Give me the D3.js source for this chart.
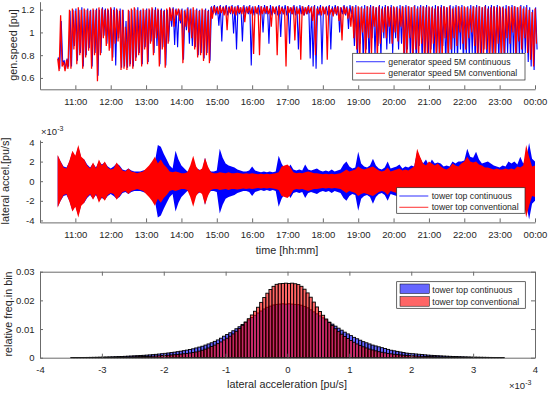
<!DOCTYPE html>
<html>
<head>
<meta charset="utf-8">
<script src="https://cdn.jsdelivr.net/npm/d3@7"></script>
<style>
  body { margin: 0; background: #fff; }
  svg { display: block; font-family: "Liberation Sans", Arial, sans-serif; }
  .tick text { fill: #262626; font-size: 9.5px; }
  .domain, .tick line { stroke: #6b6b6b; }
  .lbl { fill: #262626; font-size: 10.8px; }
  .leg { fill: #262626; font-size: 8.7px; }
</style>
</head>
<body>
<svg id="chart" width="550" height="393"></svg>
<script>
// time series: one sample every 5 minutes, starting 10:30
const startTime = new Date(2000, 0, 1, 10, 30);
const stepMinutes = 5;

// generator speed [pu], upper / lower swing per 5 min slot
const speedContHi = [
  0.78, 1.1, 0.75, 0.77, 1.19, 1.2, 1.21, 1.2, 1.22, 1.2,
  1.21, 1.2, 1.2, 1.21, 1.2, 1.22, 1.21, 1.2, 1.21, 1.22,
  1.2, 1.21, 1.2, 1.1, 1.19, 1.2, 1.21, 1.22, 1.2, 1.2,
  1.21, 1.2, 1.21, 1.22, 1.2, 1.21, 1.2, 1.2, 1.21, 1.22,
  1.21, 1.2, 1.21, 1.2, 1.22, 1.21, 1.2, 1.21, 1.2, 1.2,
  1.21, 1.2, 1.23, 1.24, 1.23, 1.24, 1.23, 1.24, 1.23, 1.24,
  1.23, 1.24, 1.22, 1.24, 1.23, 1.24, 1.23, 1.22, 1.24, 1.23,
  1.24, 1.23, 1.24, 1.22, 1.23, 1.24, 1.23, 1.24, 1.23, 1.22,
  1.24, 1.23, 1.24, 1.23, 1.22, 1.24, 1.23, 1.24, 1.23, 1.24,
  1.22, 1.23, 1.24, 1.23, 1.24, 1.23, 1.22, 1.24, 1.23, 1.24,
  1.23, 1.24, 1.22, 1.23, 1.24, 1.23, 1.24, 1.23, 1.22, 1.24,
  1.23, 1.24, 1.23, 1.24, 1.22, 1.23, 1.24, 1.23, 1.24, 1.23,
  1.22, 1.24, 1.23, 1.24, 1.23, 1.24, 1.22, 1.23, 1.24, 1.23,
  1.24, 1.23, 1.22, 1.24, 1.23, 1.24, 1.23, 1.24, 1.22, 1.23,
  1.24, 1.23, 1.24, 1.23, 1.22, 1.24, 1.23, 1.24, 1.23, 1.24,
  1.22, 1.23, 1.24, 1.23, 1.24, 1.23, 1.22, 1.24, 1.23, 1.24,
  1.22, 1.2, 1.22
];
const speedContLo = [
  0.68, 0.74, 0.68, 0.7, 0.7, 0.88, 0.75, 0.82, 0.7, 0.8,
  0.86, 0.7, 0.82, 0.62, 0.82, 0.97, 0.9, 0.86, 0.78, 0.71,
  0.95, 0.69, 0.7, 0.69, 0.72, 0.7, 0.78, 0.82, 0.72, 0.87,
  0.74, 0.92, 0.82, 0.88, 0.72, 0.87, 0.71, 0.92, 1.05, 0.89,
  0.87, 1.08, 0.76, 1.02, 0.9, 0.88, 0.87, 0.8, 0.82, 0.77,
  0.82, 0.75, 1.16, 1.15, 1.06, 0.92, 1.16, 1.15, 1.16, 0.99,
  0.85, 1.16, 0.92, 1.15, 1.16, 0.71, 1.15, 1.16, 1.15, 1.0,
  1.16, 0.9, 1.15, 1.16, 1.15, 0.96, 1.16, 1.15, 0.9, 1.16,
  1.15, 0.85, 1.16, 1.15, 1.16, 0.77, 0.7, 0.68, 1.15, 0.72,
  1.16, 1.15, 0.85, 1.16, 1.15, 1.0, 1.16, 1.15, 1.03, 1.16,
  0.88, 0.78, 0.9, 0.75, 0.85, 0.72, 0.95, 0.8, 0.88, 0.78,
  0.95, 0.85, 0.9, 0.82, 0.95, 0.85, 0.9, 0.75, 0.85, 0.78,
  0.82, 0.72, 0.88, 0.76, 0.8, 0.72, 0.85, 0.74, 0.82, 0.75,
  0.88, 0.72, 0.8, 0.76, 0.82, 0.75, 0.85, 0.72, 0.8, 0.76,
  0.82, 0.74, 0.8, 0.72, 0.85, 0.74, 0.8, 0.72, 0.82, 0.75,
  0.8, 0.73, 0.82, 0.76, 0.8, 0.74, 0.78, 0.76, 0.82, 0.74,
  0.7, 0.67, 0.85
];
const speedConvHi = [
  0.77, 1.15, 0.74, 0.76, 1.2, 1.21, 1.19, 1.22, 1.2, 1.21,
  1.2, 1.19, 1.21, 1.2, 1.22, 1.21, 1.2, 1.21, 1.22, 1.2,
  1.21, 1.19, 1.2, 1.05, 1.2, 1.21, 1.22, 1.2, 1.19, 1.21,
  1.2, 1.21, 1.22, 1.2, 1.21, 1.2, 1.19, 1.21, 1.22, 1.21,
  1.2, 1.21, 1.2, 1.19, 1.21, 1.2, 1.22, 1.2, 1.19, 1.21,
  1.2, 1.19, 1.22, 1.23, 1.22, 1.23, 1.22, 1.23, 1.22, 1.23,
  1.22, 1.23, 1.22, 1.23, 1.22, 1.23, 1.22, 1.23, 1.22, 1.23,
  1.22, 1.23, 1.21, 1.23, 1.22, 1.23, 1.22, 1.21, 1.23, 1.22,
  1.23, 1.22, 1.21, 1.23, 1.22, 1.23, 1.22, 1.23, 1.21, 1.22,
  1.23, 1.22, 1.23, 1.21, 1.22, 1.23, 1.22, 1.23, 1.22, 1.21,
  1.23, 1.22, 1.23, 1.22, 1.21, 1.23, 1.22, 1.23, 1.22, 1.23,
  1.21, 1.22, 1.23, 1.22, 1.23, 1.22, 1.21, 1.23, 1.22, 1.23,
  1.22, 1.23, 1.21, 1.22, 1.23, 1.22, 1.23, 1.22, 1.21, 1.23,
  1.22, 1.23, 1.22, 1.23, 1.21, 1.22, 1.23, 1.22, 1.23, 1.22,
  1.21, 1.23, 1.22, 1.23, 1.22, 1.23, 1.21, 1.22, 1.23, 1.22,
  1.23, 1.22, 1.21, 1.23, 1.22, 1.23, 1.22, 1.23, 1.21, 1.22,
  1.2, 1.18, 1.21
];
const speedConvLo = [
  0.66, 0.7, 0.66, 0.68, 0.68, 0.85, 0.72, 0.8, 0.68, 0.78,
  0.84, 0.68, 0.8, 0.57, 0.8, 0.95, 0.88, 0.84, 0.75, 0.9,
  0.92, 0.67, 0.68, 0.67, 0.7, 0.68, 0.75, 0.8, 0.7, 0.85,
  0.72, 0.9, 0.8, 0.95, 0.7, 0.85, 0.69, 0.9, 1.1, 1.05,
  1.15, 1.1, 0.73, 1.05, 1.0, 0.95, 0.85, 0.78, 0.8, 0.75,
  0.8, 0.73, 1.12, 1.17, 1.16, 1.17, 1.15, 1.02, 1.17, 1.16,
  1.15, 1.17, 1.16, 1.09, 1.17, 1.16, 0.81, 1.17, 0.8, 1.16,
  1.17, 1.16, 1.05, 1.17, 0.8, 1.16, 1.17, 0.7, 1.17, 1.16,
  0.93, 1.16, 0.76, 1.15, 1.16, 1.17, 1.1, 0.8, 1.16, 1.15,
  1.16, 0.76, 1.17, 1.14, 1.16, 1.1, 0.93, 1.16, 1.12, 1.05,
  0.95, 0.85, 0.72, 1.0, 0.78, 0.95, 0.8, 1.05, 0.78, 0.9,
  1.0, 0.95, 1.05, 0.9, 1.0, 0.92, 1.05, 0.8, 0.78, 0.95,
  0.75, 0.85, 0.78, 0.9, 0.76, 0.8, 0.75, 0.9, 0.78, 0.82,
  0.76, 0.95, 0.78, 0.85, 0.95, 0.88, 1.0, 0.9, 0.85, 0.95,
  1.0, 0.88, 0.78, 0.8, 0.76, 0.85, 0.78, 0.8, 0.75, 0.9,
  0.78, 0.82, 0.95, 0.9, 1.0, 0.8, 0.92, 0.85, 0.95, 0.82,
  0.76, 0.7, 0.9
];

// tower top lateral acceleration envelope [1e-3 pu/s] per 5 min slot
const accelContAmp = [
  2.6, 2.0, 1.5, 1.4, 2.0, 3.0, 2.5, 3.5, 2.4, 2.2,
  1.7, 1.4, 1.8, 1.4, 2.0, 1.7, 1.9, 1.5, 1.3, 1.5,
  1.8, 1.6, 1.2, 1.1, 1.3, 1.1, 1.0, 1.0, 1.0, 1.1,
  1.2, 1.4, 1.7, 2.0, 3.7, 3.5, 2.8, 2.2, 1.6, 1.3,
  3.1, 2.2, 1.6, 1.3, 1.0, 1.1, 2.2, 1.3, 1.2, 1.0,
  2.4, 1.3, 1.0, 1.0, 1.1, 3.3, 2.4, 1.8, 1.6, 1.5,
  1.4, 1.2, 1.1, 1.0, 1.0, 1.1, 1.5, 1.1, 1.0, 0.9,
  1.0, 0.9, 1.0, 0.9, 1.0, 2.6, 1.8, 1.3, 1.2, 1.7,
  1.2, 1.1, 1.2, 1.1, 1.7, 1.2, 1.1, 1.2, 1.3, 1.1,
  1.0, 1.1, 1.0, 1.2, 1.0, 1.1, 1.2, 1.7, 2.0, 1.5,
  1.3, 1.4, 3.0, 1.8, 1.5, 1.4, 1.6, 2.3, 1.6, 1.3,
  1.2, 1.4, 2.0, 1.3, 1.4, 1.5, 1.7, 1.3, 1.5, 1.4,
  1.6, 1.5, 3.0, 2.4, 1.8, 2.2, 1.6, 2.2, 1.8, 1.9,
  1.8, 1.5, 1.6, 1.5, 2.0, 1.8, 2.0, 2.0, 2.1, 3.3,
  2.5, 2.4, 3.0, 2.2, 1.8, 1.9, 2.0, 1.8, 1.6, 1.5,
  1.4, 1.6, 1.5, 2.0, 1.8, 2.0, 1.7, 2.5, 1.8, 2.2,
  3.9, 2.3, 2.0
];
const accelConvAmp = [
  2.7, 2.0, 1.4, 1.3, 2.1, 3.1, 2.6, 3.7, 2.5, 2.2,
  1.6, 1.3, 1.9, 1.3, 2.2, 1.6, 2.0, 1.4, 1.2, 1.3,
  1.9, 1.5, 1.1, 1.0, 1.3, 1.0, 0.9, 0.8, 0.9, 1.0,
  1.3, 1.6, 2.0, 2.5, 1.8, 2.2, 1.7, 1.4, 1.0, 0.9,
  1.0, 0.9, 0.8, 0.8, 0.9, 1.6, 2.6, 1.5, 1.1, 1.3,
  2.4, 1.5, 0.9, 0.8, 0.8, 0.9, 0.85, 0.8, 0.9, 0.8,
  0.8, 0.85, 0.8, 0.75, 0.8, 0.75, 0.8, 0.75, 0.7, 0.75,
  0.7, 0.75, 0.7, 0.75, 0.8, 0.9, 1.5, 1.6, 1.7, 1.4,
  0.9, 0.8, 0.85, 0.8, 0.9, 1.0, 0.9, 0.8, 0.8, 0.75,
  0.7, 0.75, 0.7, 0.75, 0.7, 0.75, 0.8, 1.0, 1.2, 1.0,
  1.1, 1.2, 1.5, 1.3, 1.2, 1.3, 1.4, 1.5, 1.3, 1.1,
  1.0, 1.1, 1.4, 1.0, 1.1, 1.2, 1.3, 1.1, 1.2, 1.1,
  1.3, 1.5, 3.3, 2.5, 1.8, 1.6, 2.0, 1.8, 1.6, 1.8,
  1.5, 1.3, 1.2, 1.4, 1.8, 1.6, 1.5, 1.8, 2.0, 2.5,
  2.0, 1.9, 2.0, 1.7, 1.6, 1.4, 1.4, 1.3, 1.2, 1.3,
  1.2, 1.2, 1.3, 1.2, 1.3, 1.2, 1.5, 1.4, 1.6, 3.7,
  2.5, 1.5, 1.6
];

// histogram of lateral acceleration, bins of 0.05e-3 from -3.5e-3
const binStart = -3.5;
const binWidth = 0.05;
const freqCont = [
  0.00005, 0.00006, 0.00007, 0.00008, 0.00009, 0.0001, 0.00012, 0.00014, 0.00016, 0.00019,
  0.00022, 0.00025, 0.00028, 0.00031, 0.00035, 0.00039, 0.00043, 0.00048, 0.00054, 0.0006,
  0.00066, 0.00071, 0.00077, 0.00083, 0.0009, 0.00098, 0.00107, 0.00117, 0.00128, 0.0014,
  0.00152, 0.00165, 0.00179, 0.00194, 0.0021, 0.00227, 0.00245, 0.00265, 0.00287, 0.0031,
  0.0034, 0.0037, 0.004, 0.0044, 0.0048, 0.0052, 0.0057, 0.0062, 0.0068, 0.0075,
  0.0081, 0.0087, 0.0094, 0.0101, 0.0108, 0.0116, 0.0124, 0.0132, 0.014, 0.0148,
  0.0156, 0.0163, 0.017, 0.0176, 0.018, 0.0184, 0.0186, 0.0187, 0.0188, 0.0187,
  0.0188, 0.0187, 0.0186, 0.0185, 0.0183, 0.0179, 0.0174, 0.0167, 0.016, 0.0153,
  0.0146, 0.0139, 0.0132, 0.0124, 0.0117, 0.011, 0.0103, 0.0096, 0.0089, 0.0083,
  0.0077, 0.0071, 0.0066, 0.0061, 0.0056, 0.0052, 0.0048, 0.0044, 0.0041, 0.0038,
  0.0035, 0.0032, 0.0029, 0.0026, 0.0024, 0.0022, 0.002, 0.0018, 0.0016, 0.0015,
  0.0014, 0.0013, 0.0012, 0.0011, 0.001, 0.0009, 0.00083, 0.00076, 0.0007, 0.00064,
  0.00058, 0.00053, 0.00048, 0.00044, 0.0004, 0.00036, 0.00032, 0.00029, 0.00026, 0.00023,
  0.0002, 0.00018, 0.00016, 0.00014, 0.00012, 0.0001, 0.00009, 0.00008, 0.00007, 0.00006
];
const freqConv = [
  0.00002, 0.00002, 0.00003, 0.00003, 0.00004, 0.00005, 0.00006, 0.00007, 0.00008, 0.00009,
  0.0001, 0.00011, 0.00012, 0.00013, 0.00015, 0.00017, 0.00019, 0.00022, 0.00025, 0.00028,
  0.00031, 0.00034, 0.00037, 0.0004, 0.00044, 0.00048, 0.00053, 0.00059, 0.00066, 0.00074,
  0.0008, 0.00087, 0.00095, 0.00104, 0.00114, 0.00125, 0.00137, 0.0015, 0.00165, 0.00182,
  0.002, 0.0023, 0.0026, 0.003, 0.0034, 0.0039, 0.0044, 0.0049, 0.0055, 0.0062,
  0.0068, 0.0075, 0.0083, 0.0092, 0.0102, 0.0113, 0.0124, 0.0136, 0.0149, 0.0162,
  0.0176, 0.0193, 0.021, 0.0225, 0.0238, 0.0249, 0.0256, 0.0258, 0.0259, 0.026,
  0.0259, 0.026, 0.0258, 0.0255, 0.0249, 0.0239, 0.0226, 0.0211, 0.0194, 0.0177,
  0.0161, 0.0148, 0.0135, 0.0123, 0.0112, 0.0101, 0.0091, 0.0082, 0.0074, 0.0067,
  0.006, 0.0054, 0.0048, 0.0043, 0.0038, 0.0034, 0.003, 0.0027, 0.0024, 0.0021,
  0.0019, 0.0017, 0.0015, 0.00135, 0.0012, 0.00108, 0.00097, 0.00088, 0.0008, 0.00073,
  0.00066, 0.0006, 0.00054, 0.00049, 0.00044, 0.0004, 0.00036, 0.00032, 0.00029, 0.00026,
  0.00023, 0.00021, 0.00019, 0.00017, 0.00015, 0.00013, 0.00012, 0.00011, 0.0001, 0.00009,
  0.00008, 0.00007, 0.00006, 0.00005, 0.00004, 0.00004, 0.00003, 0.00003, 0.00002, 0.00002
];

// tick values
const speedTicks = [0.6, 0.8, 1, 1.2];
const accelTicks = [-4, -2, 0, 2, 4];
const freqTicks = [0, 0.01, 0.02, 0.03];
const histTicks = [-4, -3, -2, -1, 0, 1, 2, 3, 4];

const svg = d3.select("#chart");
svg.append("rect").attr("width", 550).attr("height", 393).attr("fill", "#fff");

const timeAt = (i, extra) => d3.timeSecond.offset(startTime, i * stepMinutes * 60 + (extra || 0));

const x = d3.scaleTime()
  .domain([new Date(2000, 0, 1, 10, 0), new Date(2000, 0, 2, 0, 0)])
  .range([40, 535]);
const hourTicks = d3.timeHour.range(new Date(2000, 0, 1, 11, 0), new Date(2000, 0, 2, 0, 1));

function timeAxis(y) {
  svg.append("g")
    .attr("transform", "translate(0," + y + ")")
    .call(d3.axisBottom(x).tickValues(hourTicks).tickFormat(d3.timeFormat("%H:%M"))
      .tickSizeInner(-4).tickSizeOuter(0).tickPadding(9));
}
function leftAxis(scale, ticks, fmt) {
  svg.append("g")
    .attr("transform", "translate(40,0)")
    .call(d3.axisLeft(scale).tickValues(ticks).tickFormat(fmt)
      .tickSizeInner(-3).tickSizeOuter(0).tickPadding(5.5));
}
function yLabel(text, xb, yc) {
  svg.append("text").attr("class", "lbl")
    .attr("transform", "translate(" + xb + "," + yc + ") rotate(-90)")
    .attr("text-anchor", "middle").text(text);
}
function legendBox(x0, y0, w, h) {
  svg.append("rect").attr("x", x0).attr("y", y0).attr("width", w).attr("height", h)
    .attr("fill", "#fff").attr("stroke", "#262626").attr("stroke-width", 0.7);
}
function exponent(xp, yp) {
  const t = svg.append("text").attr("class", "leg").attr("x", xp).attr("y", yp)
    .style("font-size", "9.5px");
  t.append("tspan").text("\u00d710");
  t.append("tspan").attr("dy", -4).style("font-size", "7px").text("-3");
}

// ---------- panel 1: generator speed ----------
const y1 = d3.scaleLinear().domain([0.5, 1.27]).range([89.3, 1.7]);

function zigzag(hi, lo, shift) {
  const pts = [];
  hi.forEach((h, i) => {
    pts.push([timeAt(i, shift), h]);
    pts.push([timeAt(i, shift + 150), lo[i]]);
  });
  return pts;
}
const speedLine = d3.line().x(d => x(d[0])).y(d => y1(d[1]));

svg.append("path").datum(zigzag(speedContHi, speedContLo, 60))
  .attr("d", speedLine).attr("fill", "none")
  .attr("stroke", "#0000ff").attr("stroke-width", 1.1);
svg.append("path").datum(zigzag(speedConvHi, speedConvLo, 0))
  .attr("d", speedLine).attr("fill", "none")
  .attr("stroke", "#ff0000").attr("stroke-width", 1.25);

timeAxis(89.3);
leftAxis(y1, speedTicks, d => String(d));
yLabel("gen.speed [pu]", 16.5, 45);

legendBox(352.7, 53.3, 172.3, 26.7);
[["generator speed 5M continuous", "#0000ff", 61.7],
 ["generator speed 5M conventional", "#ff0000", 73.3]].forEach(([t, c, yy]) => {
  svg.append("line").attr("x1", 356).attr("x2", 385).attr("y1", yy).attr("y2", yy)
    .attr("stroke", c).attr("stroke-width", 1.1).attr("stroke-opacity", 0.75);
  svg.append("text").attr("class", "leg").attr("x", 388.3).attr("y", yy + 3.1).text(t);
});

// ---------- panel 2: lateral acceleration ----------
const y2 = d3.scaleLinear().domain([-4.2, 4.2]).range([222.4, 140]);
const envelope = d3.area()
  .x((d, i) => x(timeAt(i)))
  .y0(d => y2(-d))
  .y1(d => y2(d));

svg.append("path").datum(accelContAmp).attr("d", envelope).attr("fill", "#0000ff");
svg.append("path").datum(accelConvAmp).attr("d", envelope).attr("fill", "#ff0000");

timeAxis(222.4);
leftAxis(y2, accelTicks, d => String(d));
yLabel("lateral accel.[pu/s]", 8.5, 181);
exponent(41, 135);
svg.append("text").attr("class", "lbl").attr("x", 287).attr("y", 254)
  .attr("text-anchor", "middle").text("time [hh:mm]");

legendBox(396.7, 187.7, 128.3, 25.6);
[["tower top continuous", "#0000ff", 196],
 ["tower top conventional", "#ff0000", 207.3]].forEach(([t, c, yy]) => {
  svg.append("line").attr("x1", 399.3).attr("x2", 428.3).attr("y1", yy).attr("y2", yy)
    .attr("stroke", c).attr("stroke-width", 1.1).attr("stroke-opacity", 0.75);
  svg.append("text").attr("class", "leg").attr("x", 431.7).attr("y", yy + 3.1).text(t);
});

// ---------- panel 3: histogram ----------
const x3 = d3.scaleLinear().domain([-4, 4]).range([40, 535]);
const y3 = d3.scaleLinear().domain([0, 0.03]).range([357.7, 271.7]);

function bars(freq, color) {
  svg.append("g").selectAll("rect").data(freq).join("rect")
    .attr("x", (d, k) => x3(binStart + k * binWidth))
    .attr("width", (d, k) => x3(binStart + (k + 1) * binWidth) - x3(binStart + k * binWidth))
    .attr("y", d => y3(d))
    .attr("height", d => y3(0) - y3(d))
    .attr("fill", color).attr("fill-opacity", 0.6)
    .attr("stroke", "#000").attr("stroke-width", 0.9);
}
bars(freqCont, "#0000ff");
bars(freqConv, "#ff0000");

svg.append("g").attr("transform", "translate(0,357.7)")
  .call(d3.axisBottom(x3).tickValues(histTicks).tickFormat(d => String(d))
    .tickSizeInner(-4).tickSizeOuter(0).tickPadding(9));
svg.append("g").attr("transform", "translate(0,271.7)")
  .call(d3.axisTop(x3).tickValues(histTicks).tickFormat("")
    .tickSizeInner(-4).tickSizeOuter(0));
leftAxis(y3, freqTicks, d => (d === 0 ? "0" : d3.format(".2f")(d)));
svg.append("g").attr("transform", "translate(535,0)")
  .call(d3.axisRight(y3).tickValues(freqTicks).tickFormat("")
    .tickSizeInner(-4).tickSizeOuter(0));

yLabel("relative freq.in bin", 12, 314);
svg.append("text").attr("class", "lbl").attr("x", 287).attr("y", 388)
  .attr("text-anchor", "middle").text("lateral acceleration [pu/s]");
exponent(509, 389);

legendBox(396.7, 281.7, 128.6, 26.6);
[["tower top continuous", "#0000ff", 284, 290],
 ["tower top conventional", "#ff0000", 296.7, 301.7]].forEach(([t, c, ry, ty]) => {
  svg.append("rect").attr("x", 400).attr("y", ry).attr("width", 29.3).attr("height", 9.5)
    .attr("fill", c).attr("fill-opacity", 0.6).attr("stroke", "#000").attr("stroke-width", 0.5);
  svg.append("text").attr("class", "leg").attr("x", 432.3).attr("y", ty + 3.1).text(t);
});
</script>
</body>
</html>
